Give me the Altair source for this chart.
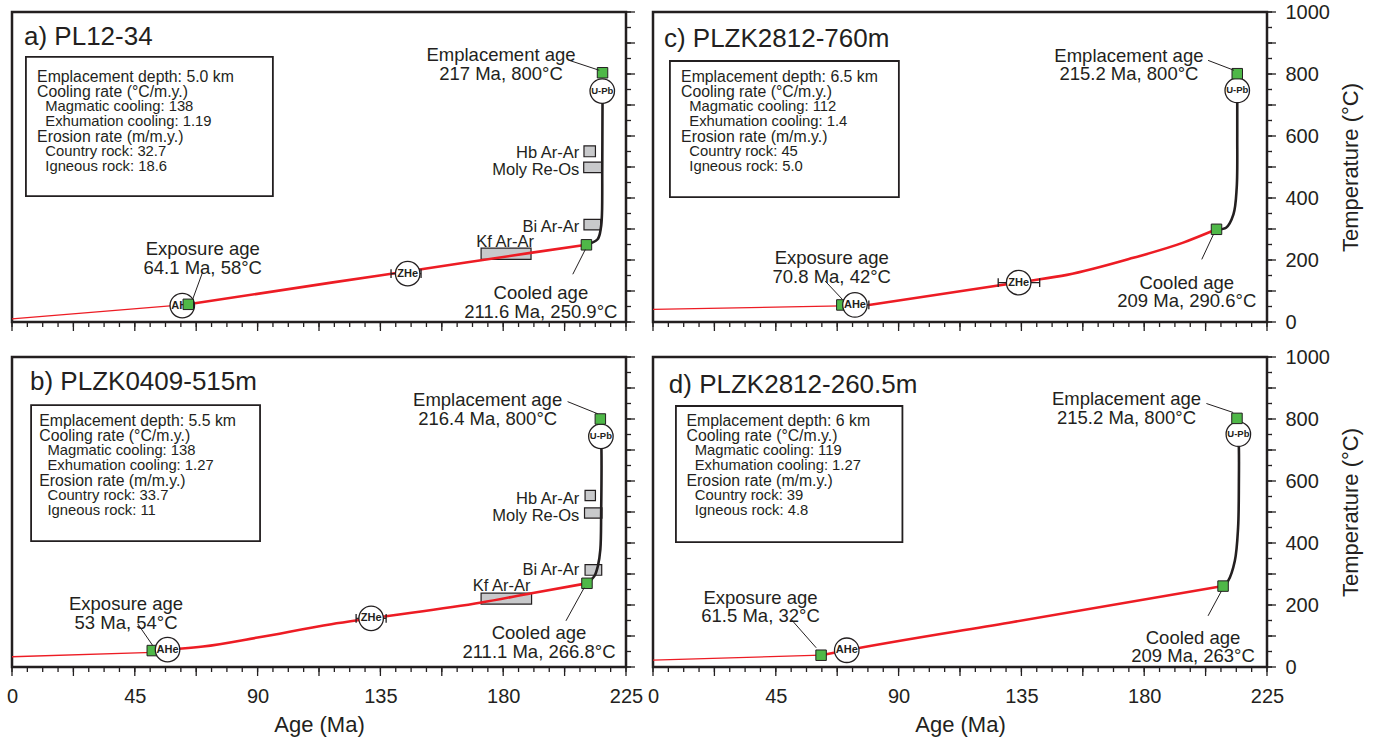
import altair as alt
import pandas as pd

# ---------------- data ----------------
KEYS = ["a", "c", "b", "d"]

TITLE = {"a": "a) PL12-34", "b": "b) PLZK0409-515m",
         "c": "c) PLZK2812-760m", "d": "d) PLZK2812-260.5m"}

INFO_LINES = {
    "a": ["Emplacement depth: 5.0 km", "Cooling rate (°C/m.y.)", "Magmatic cooling: 138",
          "Exhumation cooling: 1.19", "Erosion rate (m/m.y.)", "Country rock: 32.7", "Igneous rock: 18.6"],
    "b": ["Emplacement depth: 5.5 km", "Cooling rate (°C/m.y.)", "Magmatic cooling: 138",
          "Exhumation cooling: 1.27", "Erosion rate (m/m.y.)", "Country rock: 33.7", "Igneous rock: 11"],
    "c": ["Emplacement depth: 6.5 km", "Cooling rate (°C/m.y.)", "Magmatic cooling: 112",
          "Exhumation cooling: 1.4", "Erosion rate (m/m.y.)", "Country rock: 45", "Igneous rock: 5.0"],
    "d": ["Emplacement depth: 6 km", "Cooling rate (°C/m.y.)", "Magmatic cooling: 119",
          "Exhumation cooling: 1.27", "Erosion rate (m/m.y.)", "Country rock: 39", "Igneous rock: 4.8"],
}
INFO_SUB = [0, 0, 1, 1, 0, 1, 1]

# thin red path (before exposure)
THIN_AGE = {"a": [0, 64.6], "b": [0, 51.7], "c": [0, 69.2], "d": [0, 61.6]}
THIN_T = {"a": [10, 57], "b": [33, 47], "c": [41, 52], "d": [22, 38]}

# thick red path (exhumation cooling)
RED_AGE = {"a": [64.6, 117, 150, 190, 210.5],
           "b": [51.7, 70, 90, 117, 131.6, 172, 190.4, 210.7],
           "c": [79.1, 126.5, 138.3, 151.7, 176, 194.3, 206.5],
           "d": [61.6, 71, 130.4, 208.9]}
RED_T = {"a": [57, 127, 170, 223, 249],
         "b": [53, 66, 95, 138, 157, 208, 238, 270],
         "c": [55, 118, 133, 152, 207, 256, 299],
         "d": [38, 54, 143, 261]}

# black path (magmatic cooling)
BLACK_AGE = {"a": [210.5, 214.6, 215.8, 216.2, 216.3, 216.4, 216.4],
             "b": [210.7, 213.4, 214.7, 215.6, 215.9, 216.0, 215.8],
             "c": [206.5, 210.0, 212.7, 213.9, 214.1, 214.1, 214.1],
             "d": [208.9, 210.7, 213.2, 214.4, 214.7, 214.7, 214.5]}
BLACK_T = {"a": [249, 267, 304, 350, 500, 713, 745],
           "b": [270, 293, 326, 379, 500, 700, 744],
           "c": [299, 304, 347, 433, 600, 702, 747],
           "d": [261, 277, 342, 449, 600, 704, 751]}

# green squares: exposure, cooled, emplacement
SQ_AGE = {"a": [64.6, 210.5, 216.4], "b": [51.4, 210.7, 215.6],
          "c": [69.2, 206.5, 214.1], "d": [61.6, 208.9, 214.0]}
SQ_T = {"a": [57, 249, 804], "b": [53, 270, 800], "c": [55, 299, 801], "d": [38, 261, 802]}
SQ_TOP = {"a": [True, True, True], "b": [False, True, True],
          "c": [False, True, True], "d": [True, True, True]}

# thermochronometer circles
CIRC_LABEL = {"a": ["AHe", "ZHe", "U-Pb"], "b": ["AHe", "ZHe", "U-Pb"],
              "c": ["AHe", "ZHe", "U-Pb"], "d": ["AHe", "U-Pb"]}
CIRC_AGE = {"a": [62.4, 145.0, 216.3], "b": [57.0, 131.6, 215.8],
            "c": [74.0, 134.0, 214.1], "d": [71.0, 214.5]}
CIRC_T = {"a": [53, 156, 745], "b": [56, 157, 744], "c": [55, 127, 747], "d": [54, 751]}

# age error bars
ERR_LO = {"a": [138.9], "b": [126.1], "c": [68.8, 126.5], "d": []}
ERR_HI = {"a": [149.9], "b": [137.1], "c": [79.1, 141.7], "d": []}
ERR_T = {"a": [156], "b": [157], "c": [55, 127], "d": []}

# other geochronology boxes
RECT_LABEL = {"a": ["Hb Ar-Ar", "Moly Re-Os", "Bi Ar-Ar", "Kf Ar-Ar"],
              "b": ["Hb Ar-Ar", "Moly Re-Os", "Bi Ar-Ar", "Kf Ar-Ar"], "c": [], "d": []}
RECT_A1 = {"a": [209.6, 209.5, 209.6, 171.9], "b": [210.0, 209.8, 210.0, 171.9], "c": [], "d": []}
RECT_A2 = {"a": [213.8, 216.1, 215.7, 190.2], "b": [213.8, 216.2, 216.1, 190.4], "c": [], "d": []}
RECT_T1 = {"a": [533, 482, 297, 202], "b": [537, 480, 296, 203], "c": [], "d": []}
RECT_T2 = {"a": [568, 516, 331, 238], "b": [570, 513, 330, 238], "c": [], "d": []}

ANNOT_TEXT = {
    "a": ["Emplacement age\n217 Ma, 800°C", "Cooled age\n211.6 Ma, 250.9°C", "Exposure age\n64.1 Ma, 58°C"],
    "b": ["Emplacement age\n216.4 Ma, 800°C", "Cooled age\n211.1 Ma, 266.8°C", "Exposure age\n53 Ma, 54°C"],
    "c": ["Emplacement age\n215.2 Ma, 800°C", "Cooled age\n209 Ma, 290.6°C", "Exposure age\n70.8 Ma, 42°C"],
    "d": ["Emplacement age\n215.2 Ma, 800°C", "Cooled age\n209 Ma, 263°C", "Exposure age\n61.5 Ma, 32°C"],
}

# ---------------- layout (annotation placement, data units) ----------------
TITLE_POS = {"a": (4.4, 919), "b": (6.6, 918), "c": (4.0, 913), "d": (5.8, 910)}
BOX = {"a": (5.1, 95.6, 406, 855), "b": (7.0, 90.9, 406, 845),
       "c": (6.2, 90.1, 403, 842), "d": (8.4, 91.4, 403, 842)}
INFO_POS = {"a": (9.2, 790), "b": (10.0, 794), "c": (10.3, 790), "d": (12.3, 793)}
INFO_STEP = 48.5
INFO_INDENT = 3.0
ANNOT_AGE = {"a": [179.2, 193.8, 69.9], "b": [174.3, 193.1, 41.8],
             "c": [174.4, 195.6, 65.5], "d": [173.5, 197.9, 39.4]}
ANNOT_T = {"a": [861, 92, 235], "b": [860, 109, 202], "c": [859, 126, 205], "d": [863, 94, 224]}
LEAD = {"a": [(204.2, 844, 215.2, 812), (205.5, 154, 210.1, 234), (69.9, 162, 66.2, 73)],
        "b": [(203.6, 856, 214.6, 817), (203.0, 149, 209.7, 256), (46.1, 139, 51.6, 69)],
        "c": [(203.4, 844, 212.9, 812), (201.1, 202, 205.4, 283), (63.1, 132, 69.4, 73)],
        "d": [(202.8, 850, 212.6, 821), (203.4, 165, 208.3, 245), (50.6, 154, 59.8, 62)]}
RECT_LABEL_POS = {"a": [(207.9, 544), (207.9, 490), (207.9, 307), (180.7, 259)],
                  "b": [(207.9, 542), (207.9, 488), (207.9, 313), (179.4, 260)], "c": [], "d": []}

AGE_DOMAIN = [0, 225]
TEMP_DOMAIN = [0, 1000]
AGE_MINOR_TICKS = [i * 5.625 for i in range(41)]
AGE_MAJOR_TICKS = [i * 22.5 for i in range(11)]
AGE_LABELS = [0, 45, 90, 135, 180, 225]
TEMP_MINOR_TICKS = list(range(0, 1001, 50))
TEMP_MAJOR_TICKS = list(range(0, 1001, 100))
TEMP_LABELS = [0, 200, 400, 600, 800, 1000]

# ---------------- style ----------------
FONT = "Liberation Sans"
INK = "#231f20"
RED = "#ed1c24"
GREEN = "#4fb848"
GRAY = "#c8c9cb"
W, H = 614, 310

XS = alt.Scale(domain=AGE_DOMAIN, nice=False, zero=False)
YS = alt.Scale(domain=TEMP_DOMAIN, nice=False, zero=False)


def build_panel(k, bottom, right):
    if bottom:
        x_axis = alt.Axis(values=AGE_LABELS, ticks=False, domain=False, grid=False, labelFlush=False,
                          labelOverlap=False, format="d", labelPadding=19, title="Age (Ma)", titlePadding=8)
    else:
        x_axis = None
    if right:
        y_axis = alt.Axis(orient="right", values=TEMP_LABELS, ticks=False, domain=False, grid=False,
                          labelFlush=False, labelOverlap=False, format="d", labelPadding=18,
                          title="Temperature (°C)", titleAngle=270, titlePadding=33)
    else:
        y_axis = None

    def X(f):
        return alt.X(f, type="quantitative", scale=XS, axis=x_axis)

    def Y(f):
        return alt.Y(f, type="quantitative", scale=YS, axis=y_axis)

    layers = []
    bx1, bx2, by1, by2 = BOX[k]
    box = pd.DataFrame({"x1": [bx1], "x2": [bx2], "y1": [by1], "y2": [by2]})
    layers.append(alt.Chart(box).mark_rect(fill="white", stroke=INK, strokeWidth=1.8).encode(
        x=X("x1"), x2="x2", y=Y("y1"), y2="y2"))

    ix, iy = INFO_POS[k]
    info = pd.DataFrame({
        "t": INFO_LINES[k],
        "x": [ix + INFO_INDENT * s for s in INFO_SUB],
        "y": [iy - INFO_STEP * i for i in range(len(INFO_SUB))],
        "fs": [14.8 if s else 15.8 for s in INFO_SUB],
    })
    layers.append(alt.Chart(info).mark_text(align="left", baseline="middle", font=FONT, color=INK).encode(
        x=X("x"), y=Y("y"), text="t:N", size=alt.Size("fs:Q", scale=None)))

    tx, ty = TITLE_POS[k]
    title = pd.DataFrame({"x": [tx], "y": [ty], "t": [TITLE[k]]})
    layers.append(alt.Chart(title).mark_text(align="left", baseline="middle", font=FONT, color=INK,
                                              fontSize=26).encode(x=X("x"), y=Y("y"), text="t:N"))

    if RECT_LABEL[k]:
        rects = pd.DataFrame({"a1": RECT_A1[k], "a2": RECT_A2[k], "t1": RECT_T1[k], "t2": RECT_T2[k]})
        layers.append(alt.Chart(rects).mark_rect(fill=GRAY, stroke=INK, strokeWidth=1.2).encode(
            x=X("a1"), x2="a2", y=Y("t1"), y2="t2"))
        rl = pd.DataFrame({"t": RECT_LABEL[k], "x": [p[0] for p in RECT_LABEL_POS[k]],
                           "y": [p[1] for p in RECT_LABEL_POS[k]],
                           "al": ["right", "right", "right", "center"]})
        for al in ["right", "center"]:
            layers.append(alt.Chart(rl[rl["al"] == al]).mark_text(
                align=al, baseline="middle", font=FONT, color=INK, fontSize=16.5).encode(
                x=X("x"), y=Y("y"), text="t:N"))

    thin = pd.DataFrame({"age": THIN_AGE[k], "T": THIN_T[k]})
    layers.append(alt.Chart(thin).mark_line(color=RED, strokeWidth=1.3).encode(x=X("age"), y=Y("T")))
    red = pd.DataFrame({"age": RED_AGE[k], "T": RED_T[k]})
    layers.append(alt.Chart(red).mark_line(color=RED, strokeWidth=2.6, interpolate="monotone").encode(
        x=X("age"), y=Y("T")))
    blk = pd.DataFrame({"age": BLACK_AGE[k], "T": BLACK_T[k], "i": list(range(len(BLACK_T[k])))})
    layers.append(alt.Chart(blk).mark_line(color=INK, strokeWidth=2.6, interpolate="catmull-rom").encode(
        x=X("age"), y=Y("T"), order="i:Q"))

    if ERR_T[k]:
        err = pd.DataFrame({"lo": ERR_LO[k], "hi": ERR_HI[k], "T": ERR_T[k]})
        layers.append(alt.Chart(err).mark_rule(color=INK, strokeWidth=1.2).encode(
            x=X("lo"), x2="hi", y=Y("T")))
        caps = pd.DataFrame({"a": ERR_LO[k] + ERR_HI[k], "T": ERR_T[k] + ERR_T[k]})
        caps["t1"] = caps["T"] - 14
        caps["t2"] = caps["T"] + 14
        layers.append(alt.Chart(caps).mark_rule(color=INK, strokeWidth=1.3).encode(
            x=X("a"), y=Y("t1"), y2="t2"))

    sq = pd.DataFrame({"age": SQ_AGE[k], "T": SQ_T[k], "top": SQ_TOP[k]})
    sq_mark = dict(shape="square", filled=True, fill=GREEN, stroke=INK, strokeWidth=1, size=110, opacity=1)
    if (~sq["top"]).any():
        layers.append(alt.Chart(sq[~sq["top"]]).mark_point(**sq_mark).encode(x=X("age"), y=Y("T")))

    circ = pd.DataFrame({"age": CIRC_AGE[k], "T": CIRC_T[k], "t": CIRC_LABEL[k],
                         "fs": [9.5 if c == "U-Pb" else 11 for c in CIRC_LABEL[k]]})
    layers.append(alt.Chart(circ).mark_point(shape="circle", filled=True, fill="white", stroke=INK,
                                             strokeWidth=1.3, size=600, opacity=1).encode(
        x=X("age"), y=Y("T")))
    layers.append(alt.Chart(circ).mark_text(font=FONT, fontWeight="bold", color=INK, baseline="middle").encode(
        x=X("age"), y=Y("T"), text="t:N", size=alt.Size("fs:Q", scale=None)))

    layers.append(alt.Chart(sq[sq["top"]]).mark_point(**sq_mark).encode(x=X("age"), y=Y("T")))

    lead = pd.DataFrame({"a1": [l[0] for l in LEAD[k]], "t1": [l[1] for l in LEAD[k]],
                         "a2": [l[2] for l in LEAD[k]], "t2": [l[3] for l in LEAD[k]]})
    layers.append(alt.Chart(lead).mark_rule(color=INK, strokeWidth=1).encode(
        x=X("a1"), y=Y("t1"), x2="a2", y2="t2"))

    ann = pd.DataFrame({"x": ANNOT_AGE[k], "y": ANNOT_T[k], "t": ANNOT_TEXT[k]})
    layers.append(alt.Chart(ann).mark_text(align="center", baseline="middle", font=FONT, color=INK,
                                            fontSize=18.5, lineBreak="\n", lineHeight=18.5).encode(
        x=X("x"), y=Y("y"), text="t:N"))

    # tick marks
    xt = pd.DataFrame({"v": AGE_MINOR_TICKS})
    layers.append(alt.Chart(xt).mark_rule(color=INK, strokeWidth=1.3).encode(
        x=X("v"), y=alt.value(H), y2=alt.value(H + 5)))
    xT = pd.DataFrame({"v": AGE_MAJOR_TICKS})
    layers.append(alt.Chart(xT).mark_rule(color=INK, strokeWidth=1.3).encode(
        x=X("v"), y=alt.value(H), y2=alt.value(H + 9)))
    yt = pd.DataFrame({"v": TEMP_MINOR_TICKS})
    layers.append(alt.Chart(yt).mark_rule(color=INK, strokeWidth=1.3).encode(
        y=Y("v"), x=alt.value(W), x2=alt.value(W + 5)))
    yT = pd.DataFrame({"v": TEMP_MAJOR_TICKS})
    layers.append(alt.Chart(yT).mark_rule(color=INK, strokeWidth=1.3).encode(
        y=Y("v"), x=alt.value(W), x2=alt.value(W + 9)))

    return alt.layer(*layers).properties(width=W, height=H)


panels = [build_panel(k, k in ("b", "d"), k in ("c", "d")) for k in KEYS]

chart = alt.concat(*panels, columns=2, spacing={"row": 35, "column": 27}, bounds="flush").properties(
    padding={"left": 5, "top": 0, "right": 5, "bottom": 0}
).configure_view(stroke=INK, strokeWidth=2.5).configure_axis(
    labelFont=FONT, titleFont=FONT, labelFontSize=20, titleFontSize=22,
    labelColor=INK, titleColor=INK, titleFontWeight="normal")

chart.save("out.html", embed_options={"renderer": "svg", "actions": False})
